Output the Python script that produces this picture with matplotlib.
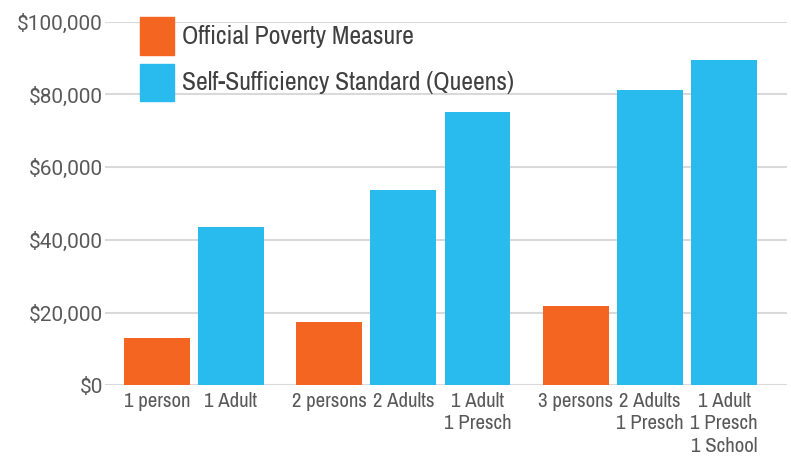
import matplotlib
matplotlib.use("Agg")
import matplotlib.pyplot as plt
from matplotlib.patches import Patch
from matplotlib.ticker import FuncFormatter

# 各柱标签与数值（按组排列）
labels = ["1 person", "1 Adult", "2 persons", "2 Adults", "1 Adult\n1 Presch",
          "3 persons", "2 Adults\n1 Presch", "1 Adult\n1 Presch\n1 School"]
values = [13000, 43500, 17400, 53700, 75300, 21800, 81300, 89600]
series = ["opm", "sss", "opm", "sss", "sss", "opm", "sss", "sss"]
groups = [0, 0, 1, 1, 1, 2, 2, 2]
legend_labels = ["Official Poverty Measure", "Self-Sufficiency Standard (Queens)"]

colors = {"opm": "#F46521", "sss": "#29BBED"}
group_gap = 0.33
xs = [i + g * group_gap for i, g in enumerate(groups)]

narrow = ["Archivo Narrow", "Roboto Condensed", "Liberation Sans Narrow", "DejaVu Sans"]
wide = ["Roboto", "Liberation Sans", "DejaVu Sans"]
plt.rcParams["font.family"] = narrow

fig = plt.figure(figsize=(7.91, 4.58), dpi=100)
ax = fig.add_axes([0.1327, 0.1587, 0.995 - 0.1327, 0.9526 - 0.1587])

ax.bar(xs, values, width=0.89, color=[colors[s] for s in series], zorder=3)

ax.set_ylim(0, 100000)
ax.set_xlim(-0.70, 8.51)
ax.set_yticks(range(0, 100001, 20000))
ax.yaxis.set_major_formatter(FuncFormatter(lambda v, p: f"${v:,.0f}"))
ax.set_xticks(xs)
ax.set_xticklabels(labels, linespacing=1.25)

ax.grid(axis="y", color="#d9d9d9", linewidth=1.5, zorder=0)
for s in ax.spines.values():
    s.set_visible(False)
ax.tick_params(axis="both", length=0, colors="#595959")
ax.tick_params(axis="y", pad=1.5)
ax.tick_params(axis="x", pad=4.5, labelsize=15)
for t in ax.get_yticklabels():
    t.set_family(wide)
    t.set_fontsize(15)

handles = [Patch(color=colors["opm"]), Patch(color=colors["sss"])]
leg = ax.legend(handles, legend_labels, loc="upper left", bbox_to_anchor=(0.037, 1.04),
                frameon=False, fontsize=18.5, handlelength=1.3, handleheight=1.85,
                handletextpad=0.3, labelspacing=0.35, borderaxespad=0)
for t in leg.get_texts():
    t.set_color("#404040")

fig.savefig("out.png", dpi=100)
